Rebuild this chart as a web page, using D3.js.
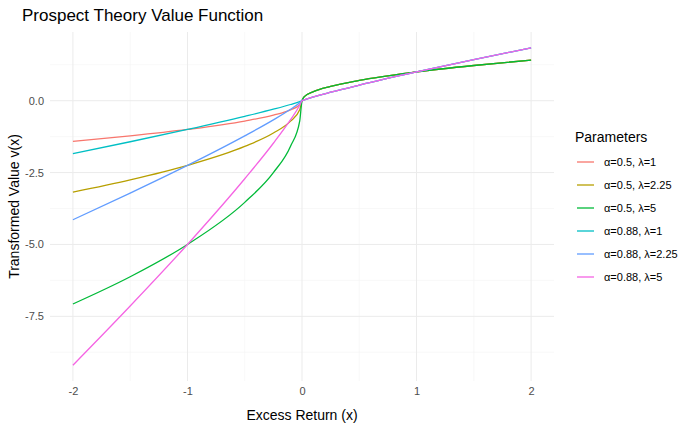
<!DOCTYPE html>
<html><head><meta charset="UTF-8">
<script src="https://cdn.jsdelivr.net/npm/d3@7"></script>
<style>
body { margin: 0; background: #fff; font-family: "Liberation Sans", Arial, sans-serif; }
.grid line { stroke: #ebebeb; }
.grid .minor { stroke: #f3f3f3; stroke-width: 0.6; }
.tick text { fill: #4d4d4d; font-size: 11px; }
</style>
</head><body>
<div id="chart"></div>
<script>
// x positions sampled along each curve
var xs = [-2, -1.5, -1, -0.5, -0.25, -0.1, -0.02, 0, 0.02, 0.1, 0.25, 0.5, 1, 1.5, 2];

// values (one array per curve)
var a05_l1   = [-1.414, -1.225, -1, -0.707, -0.5, -0.316, -0.141, 0, 0.141, 0.316, 0.5, 0.707, 1, 1.225, 1.414];
var a05_l225 = [-3.182, -2.756, -2.25, -1.591, -1.125, -0.711, -0.318, 0, 0.141, 0.316, 0.5, 0.707, 1, 1.225, 1.414];
var a05_l5   = [-7.071, -6.124, -5, -3.536, -2.5, -1.581, -0.707, 0, 0.141, 0.316, 0.5, 0.707, 1, 1.225, 1.414];
var a088_l1  = [-1.84, -1.428, -1, -0.543, -0.296, -0.132, -0.032, 0, 0.032, 0.132, 0.296, 0.543, 1, 1.428, 1.84];
var a088_l225= [-4.14, -3.213, -2.25, -1.222, -0.666, -0.297, -0.072, 0, 0.032, 0.132, 0.296, 0.543, 1, 1.428, 1.84];
var a088_l5  = [-9.2, -7.14, -5, -2.715, -1.48, -0.66, -0.16, 0, 0.032, 0.132, 0.296, 0.543, 1, 1.428, 1.84];

var labels = ["α=0.5, λ=1", "α=0.5, λ=2.25", "α=0.5, λ=5", "α=0.88, λ=1", "α=0.88, λ=2.25", "α=0.88, λ=5"];
var colors = ["#F8766D", "#B79F00", "#00BA38", "#00BFC4", "#619CFF", "#F564E3"];
var series = [a05_l1, a05_l225, a05_l5, a088_l1, a088_l225, a088_l5];

var xTicks = [-2, -1, 0, 1, 2];
var yTicks = [0, -2.5, -5, -7.5];

var W = 700, H = 432;
var pLeft = 50, pRight = 554, pTop = 32, pBottom = 381;

var x = d3.scaleLinear().domain([-2.2, 2.2]).range([pLeft, pRight]);
var y = d3.scaleLinear().domain([-9.75, 2.39]).range([pBottom, pTop]);

var svg = d3.select("#chart").append("svg").attr("width", W).attr("height", H);

// grid
var g = svg.append("g").attr("class", "grid");
[-1.5, -0.5, 0.5, 1.5].forEach(function(v) {
  g.append("line").attr("class", "minor").attr("x1", x(v)).attr("x2", x(v)).attr("y1", pTop).attr("y2", pBottom);
});
[1.25, -1.25, -3.75, -6.25, -8.75].forEach(function(v) {
  g.append("line").attr("class", "minor").attr("y1", y(v)).attr("y2", y(v)).attr("x1", pLeft).attr("x2", pRight);
});
xTicks.forEach(function(v) {
  g.append("line").attr("x1", x(v)).attr("x2", x(v)).attr("y1", pTop).attr("y2", pBottom);
});
yTicks.forEach(function(v) {
  g.append("line").attr("y1", y(v)).attr("y2", y(v)).attr("x1", pLeft).attr("x2", pRight);
});

// axes (text only, ggplot minimal)
svg.append("g").attr("transform", "translate(0," + (pBottom + 3) + ")")
  .call(d3.axisBottom(x).tickValues(xTicks).tickSize(0).tickFormat(function(d) { return String(d); }))
  .call(function(a) { a.select(".domain").remove(); });
svg.append("g").attr("transform", "translate(" + (pLeft - 3) + ",0)")
  .call(d3.axisLeft(y).tickValues(yTicks).tickSize(0).tickFormat(function(d) { return d.toFixed(1); }))
  .call(function(a) { a.select(".domain").remove(); });

// lines
var line = d3.line().x(function(d, i) { return x(xs[i]); }).y(function(d) { return y(d); })
  .curve(d3.curveMonotoneX);
series.forEach(function(s, i) {
  svg.append("path").datum(s).attr("fill", "none").attr("stroke", colors[i])
    .attr("stroke-width", 1.3).attr("d", line);
});

// titles
svg.append("text").attr("x", 22).attr("y", 21).attr("font-size", 17).text("Prospect Theory Value Function");
svg.append("text").attr("x", (pLeft + pRight) / 2).attr("y", 420).attr("text-anchor", "middle")
  .attr("font-size", 14).text("Excess Return (x)");
svg.append("text").attr("transform", "translate(19," + ((pTop + pBottom) / 2) + ") rotate(-90)")
  .attr("text-anchor", "middle").attr("font-size", 14).text("Transformed Value v(x)");

// legend
var lg = svg.append("g").attr("transform", "translate(575,0)");
lg.append("text").attr("x", 0).attr("y", 142).attr("font-size", 14).text("Parameters");
labels.forEach(function(l, i) {
  var yy = 162 + i * 23;
  lg.append("line").attr("x1", 2).attr("x2", 19).attr("y1", yy).attr("y2", yy)
    .attr("stroke", colors[i]).attr("stroke-width", 1.3);
  lg.append("text").attr("x", 29).attr("y", yy + 4).attr("font-size", 11).text(l);
});
</script>
</body></html>
